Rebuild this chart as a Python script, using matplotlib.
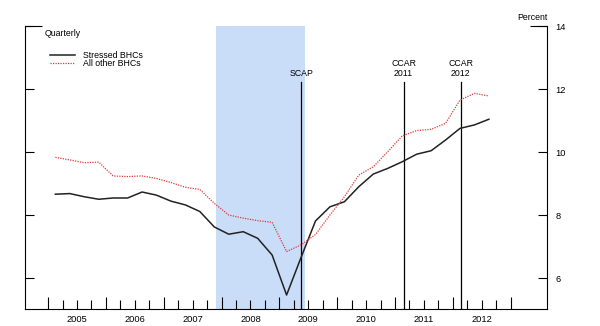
import matplotlib
matplotlib.use("Agg")
import matplotlib.pyplot as plt
from matplotlib.ticker import FixedLocator, NullFormatter

plt.rcParams["font.family"] = ["Liberation Sans", "DejaVu Sans"]

# Tier 1 common capital ratio, quarterly, 2005Q1 - 2012Q3
quarters = [f"{y}Q{q}" for y in range(2005, 2013) for q in range(1, 5)][:31]
stressed = [8.66, 8.68, 8.58, 8.50, 8.54, 8.54, 8.73, 8.63,
            8.44, 8.32, 8.11, 7.62, 7.39, 7.47, 7.26, 6.73,
            5.46, 6.65, 7.81, 8.26, 8.42, 8.90, 9.30, 9.48,
            9.69, 9.93, 10.04, 10.38, 10.75, 10.86, 11.04]
others = [9.83, 9.75, 9.66, 9.68, 9.24, 9.22, 9.24, 9.16,
          9.03, 8.88, 8.81, 8.37, 8.00, 7.90, 7.82, 7.77,
          6.84, 7.05, 7.38, 8.00, 8.58, 9.27, 9.53, 10.01,
          10.51, 10.68, 10.72, 10.91, 11.65, 11.86, 11.78]
series_labels = ["Stressed BHCs", "All other BHCs"]

# Supervisory events and recession period (decimal years)
event_labels = ["SCAP", "CCAR\n2011", "CCAR\n2012"]
event_dates = [2009.38, 2011.15, 2012.14]
recession = (2007.91, 2009.45)

years = list(range(2005, 2013))
y_ticks = [6, 8, 10, 12, 14]


def quarter_mid(label):
    yr, q = label.split("Q")
    return int(yr) + (int(q) - 0.5) / 4


x = [quarter_mid(q) for q in quarters]

fig = plt.figure(figsize=(6.0, 3.26), dpi=100)
ax = fig.add_axes([25 / 600, 17 / 326, 522 / 600, 283 / 326])
ax.set_xlim(2004.60, 2013.63)
ax.set_ylim(5.016, 14)

ax.axvspan(*recession, color="#c9dcf8", lw=0, zorder=0)

for xd in event_dates:
    ax.plot([xd, xd], [5.016, 12.22], color="black", lw=0.9, zorder=3)
for lab, xd in zip(event_labels, event_dates):
    ax.annotate(lab, xy=(xd, 12.22), xytext=(0, 3), textcoords="offset points",
                ha="center", va="bottom", fontsize=6.3, linespacing=1.1)

ax.plot(x, stressed, color="#222222", lw=1.1, label=series_labels[0], zorder=4)
ax.plot(x, others, color="#e03a3a", lw=0.9, ls=(0, (1, 1)),
        label=series_labels[1], zorder=4)

# Spines
ax.spines["top"].set_visible(False)
for s in ("left", "right", "bottom"):
    ax.spines[s].set_linewidth(0.8)

# X axis: year boundaries and quarters, labels centred within each year
ax.xaxis.set_major_locator(FixedLocator(list(range(2005, 2014))))
ax.xaxis.set_minor_locator(FixedLocator([y + q / 4 for y in range(2005, 2013) for q in (1, 2, 3)]))
ax.xaxis.set_major_formatter(NullFormatter())
ax.tick_params(axis="x", which="major", direction="in", length=9, width=0.8)
ax.tick_params(axis="x", which="minor", direction="in", length=6.5, width=0.8)
for yr in years:
    ax.annotate(str(yr), xy=(yr + 0.5, 0), xycoords=("data", "axes fraction"),
                xytext=(0, -7.3), textcoords="offset points",
                ha="center", va="center", fontsize=6.7)

# Y axis: inward ticks on both sides, labels on the right
ax.yaxis.remove_overlapping_locs = False
ax.yaxis.set_major_locator(FixedLocator(y_ticks))
ax.yaxis.set_minor_locator(FixedLocator([14]))
ax.tick_params(axis="y", which="major", direction="in", length=6.5, width=0.8,
               left=True, right=True, labelleft=False, labelright=True,
               labelsize=6.7, pad=6)
ax.tick_params(axis="y", which="minor", direction="in", length=12.5, width=0.8,
               left=True, right=True)

fig.text(547 / 600, 1 - 17 / 326, "Percent", ha="right", va="center", fontsize=6.3)
fig.text(45 / 600, 1 - 34 / 326, "Quarterly", ha="left", va="center", fontsize=6.3)

ax.legend(loc="upper left", bbox_to_anchor=(50 / 600, 1 - 51 / 326),
          bbox_transform=fig.transFigure, frameon=False, fontsize=6.3,
          handlelength=2.9, handletextpad=0.9, labelspacing=-0.15,
          borderpad=0, borderaxespad=0)

fig.savefig("out.png", dpi=100)
